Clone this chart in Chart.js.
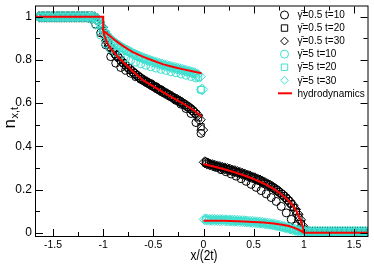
<!DOCTYPE html>
<html>
<head>
<meta charset="utf-8">
<script src="https://cdn.jsdelivr.net/npm/chart.js@4/dist/chart.umd.min.js"></script>
<style>
  html, body { margin: 0; padding: 0; background: #fff; }
  #box { width: 374px; height: 265px; }
</style>
</head>
<body>
<div id="box"><canvas id="profile" width="374" height="265"></canvas></div>
<script>
// axis ticks
const X_TICKS = [-1.5, -1, -0.5, 0, 0.5, 1, 1.5];
const X_MINOR = [-1.25, -0.75, -0.25, 0.25, 0.75, 1.25];
const Y_TICKS = [0, 0.2, 0.4, 0.6, 0.8, 1];
const Y_MINOR = [0.1, 0.3, 0.5, 0.7, 0.9];

// x/(2t) positions of the lattice sites for each time
const X_T10 = [-1.625,-1.575,-1.525,-1.475,-1.425,-1.375,-1.325,-1.275,-1.225,-1.175,-1.125,-1.075,-1.025,-0.975,-0.925,-0.875,-0.825,-0.775,-0.725,-0.675,-0.625,-0.575,-0.525,-0.475,-0.425,-0.375,-0.325,-0.275,-0.225,-0.175,-0.125,-0.075,-0.025,
  0.025,0.075,0.125,0.175,0.225,0.275,0.325,0.375,0.425,0.475,0.525,0.575,0.625,0.675,0.725,0.775,0.825,0.875,0.925,0.975,1.025,1.075,1.125,1.175,1.225,1.275,1.325,1.375,1.425,1.475,1.525,1.575,1.625];
const X_T20 = [-1.65,-1.625,-1.6,-1.575,-1.55,-1.525,-1.5,-1.475,-1.45,-1.425,-1.4,-1.375,-1.35,-1.325,-1.3,-1.275,-1.25,-1.225,-1.2,-1.175,-1.15,-1.125,-1.1,
  -1.075,-1.05,-1.025,-1,-0.975,-0.95,-0.925,-0.9,-0.875,-0.85,-0.825,-0.8,-0.775,-0.75,-0.725,-0.7,-0.675,-0.65,-0.625,-0.6,-0.575,-0.55,-0.525,-0.5,-0.475,-0.45,-0.425,-0.4,-0.375,-0.35,-0.325,-0.3,-0.275,-0.25,-0.225,-0.2,-0.175,-0.15,-0.125,-0.1,-0.075,-0.05,-0.025,
  0.025,0.05,0.075,0.1,0.125,0.15,0.175,0.2,0.225,0.25,0.275,0.3,0.325,0.35,0.375,0.4,0.425,0.45,0.475,0.5,0.525,0.55,0.575,0.6,0.625,0.65,0.675,0.7,0.725,0.75,0.775,0.8,0.825,0.85,0.875,0.9,0.925,0.95,0.975,1,
  1.025,1.05,1.075,1.1,1.125,1.15,1.175,1.2,1.225,1.25,1.275,1.3,1.325,1.35,1.375,1.4,1.425,1.45,1.475,1.5,1.525,1.55,1.575,1.6,1.625,1.65];
const X_T30 = [-1.6375,-1.6125,-1.5875,-1.5625,-1.5375,-1.5125,-1.4875,-1.4625,-1.4375,-1.4125,-1.3875,-1.3625,-1.3375,-1.3125,-1.2875,-1.2625,-1.2375,-1.2125,-1.1875,-1.1625,-1.1375,-1.1125,-1.0875,
  -1.0625,-1.0375,-1.0125,-0.9875,-0.9625,-0.9375,-0.9125,-0.8875,-0.8625,-0.8375,-0.8125,-0.7875,-0.7625,-0.7375,-0.7125,-0.6875,-0.6625,-0.6375,-0.6125,-0.5875,-0.5625,-0.5375,-0.5125,-0.4875,-0.4625,-0.4375,-0.4125,-0.3875,-0.3625,-0.3375,-0.3125,-0.2875,-0.2625,-0.2375,-0.2125,-0.1875,-0.1625,-0.1375,-0.1125,-0.0875,-0.0625,-0.0375,-0.0125,
  0.0125,0.0375,0.0625,0.0875,0.1125,0.1375,0.1625,0.1875,0.2125,0.2375,0.2625,0.2875,0.3125,0.3375,0.3625,0.3875,0.4125,0.4375,0.4625,0.4875,0.5125,0.5375,0.5625,0.5875,0.6125,0.6375,0.6625,0.6875,0.7125,0.7375,0.7625,0.7875,0.8125,0.8375,0.8625,0.8875,0.9125,0.9375,0.9625,0.9875,
  1.0125,1.0375,1.0625,1.0875,1.1125,1.1375,1.1625,1.1875,1.2125,1.2375,1.2625,1.2875,1.3125,1.3375,1.3625,1.3875,1.4125,1.4375,1.4625,1.4875,1.5125,1.5375,1.5625,1.5875,1.6125,1.6375];

// gamma = 0.5
const BLACK_T10 = [1,1,1,1,1,1,1,1,1,1,
  0.99,0.965,0.925,0.87,0.815,0.785,0.765,0.752,0.738,0.722,
  0.71,0.7,0.69,0.676,0.662,0.646,0.63,0.613,0.595,0.575,
  0.552,0.51,0.46,
  0.328,0.316,0.303,0.292,0.282,0.272,0.262,0.25,0.238,0.224,
  0.21,0.195,0.18,0.163,0.145,0.122,0.092,0.062,0.032,0.014,
  0.005,0.002,0,0,0,0,0,0,0,0,
  0,0,0];
const BLACK_T20 = [1,1,1,1,1,1,1,1,1,1,1,1,1,1,1,1,1,1,1,1,1,1,0.998,
  0.993,0.982,0.962,0.935,0.905,0.878,0.857,0.84,
  0.825,0.811,0.798,0.786,0.774,0.763,0.752,0.742,0.732,0.723,0.714,0.706,
  0.699,0.692,0.685,0.678,0.671,0.664,0.657,0.651,0.644,0.638,0.631,0.624,
  0.618,0.611,0.604,0.597,0.589,0.581,0.572,0.562,0.55,0.532,0.49,
  0.322,0.318,0.315,0.312,0.309,0.306,0.303,0.3,0.297,0.293,
  0.29,0.286,0.283,0.279,0.275,0.271,0.267,0.263,0.258,0.254,
  0.249,0.244,0.239,0.233,0.227,0.221,0.214,0.207,0.199,0.19,
  0.181,0.171,0.16,0.148,0.134,0.117,0.097,0.072,0.043,0.015,
  0.005,0.002,0,0,0,0,0,0,0,0,0,0,0,0,0,0,0,0,0,0,0,0,0,0,0,0];
const BLACK_T30 = [1,1,1,1,1,1,1,1,1,1,1,1,1,1,1,1,1,1,1,1,1,1,0.997,
  0.99,0.975,0.95,0.918,0.888,0.864,0.846,0.831,
  0.817,0.804,0.792,0.78,0.769,0.758,0.747,0.737,0.728,0.719,0.71,0.703,
  0.696,0.689,0.682,0.675,0.668,0.661,0.654,0.648,0.641,0.635,0.628,0.621,
  0.615,0.608,0.601,0.593,0.585,0.577,0.568,0.557,0.544,0.523,0.475,
  0.326,0.32,0.316,0.313,0.31,0.307,0.304,0.301,0.298,0.295,
  0.292,0.288,0.285,0.281,0.277,0.273,0.269,0.265,0.261,0.256,
  0.252,0.247,0.242,0.236,0.23,0.224,0.218,0.211,0.203,0.195,
  0.186,0.176,0.166,0.154,0.141,0.126,0.108,0.086,0.06,0.03,
  0.008,0.003,0,0,0,0,0,0,0,0,0,0,0,0,0,0,0,0,0,0,0,0,0,0,0,0];

// gamma = 5
const CYAN_T10 = [1,1,1,1,1,1,1,1,1,1,
  0.99,0.962,0.915,0.875,0.85,0.835,0.821,0.809,0.799,0.79,
  0.782,0.775,0.768,0.762,0.756,0.751,0.745,0.74,0.735,0.729,
  0.723,0.716,0.662,
  0.062,0.061,0.06,0.059,0.058,0.057,0.056,0.054,0.052,0.05,
  0.048,0.045,0.042,0.038,0.033,0.028,0.022,0.016,0.011,0.008,
  0.006,0.005,0.005,0.005,0.005,0.005,0.005,0.005,0.005,0.005,
  0.005,0.005,0.005];
const CYAN_T20 = [1,1,1,1,1,1,1,1,1,1,1,1,1,1,1,1,1,1,1,1,1,1,0.998,
  0.993,0.982,0.963,0.94,0.921,0.906,0.894,0.884,
  0.875,0.867,0.86,0.853,0.846,0.84,0.834,0.828,0.822,0.817,0.812,0.807,
  0.803,0.799,0.795,0.791,0.787,0.783,0.78,0.776,0.773,0.77,0.767,0.764,
  0.761,0.758,0.755,0.752,0.749,0.746,0.743,0.739,0.735,0.72,0.662,
  0.06,0.06,0.06,0.059,0.059,0.059,0.058,0.058,0.057,0.057,
  0.056,0.056,0.055,0.055,0.054,0.053,0.052,0.051,0.05,0.049,
  0.048,0.047,0.046,0.044,0.043,0.041,0.039,0.037,0.035,0.033,
  0.03,0.027,0.024,0.021,0.018,0.015,0.012,0.009,0.007,0.006,
  0.005,0.005,0.005,0.005,0.005,0.005,0.005,0.005,0.005,0.005,0.005,0.005,0.005,0.005,0.005,0.005,0.005,0.005,0.005,0.005,0.005,0.005,0.005,0.005,0.005,0.005];
const CYAN_T30 = [1,1,1,1,1,1,1,1,1,1,1,1,1,1,1,1,1,1,1,1,1,1,0.997,
  0.99,0.975,0.952,0.93,0.913,0.9,0.889,0.879,
  0.871,0.863,0.856,0.849,0.843,0.837,0.831,0.825,0.82,0.815,0.81,0.805,
  0.801,0.797,0.793,0.789,0.785,0.782,0.778,0.775,0.772,0.769,0.766,0.763,
  0.76,0.757,0.754,0.751,0.748,0.745,0.742,0.738,0.733,0.722,0.663,
  0.062,0.061,0.06,0.06,0.059,0.059,0.058,0.058,0.058,0.057,
  0.057,0.056,0.056,0.055,0.054,0.054,0.053,0.052,0.051,0.05,
  0.049,0.048,0.047,0.046,0.044,0.042,0.041,0.039,0.037,0.034,
  0.032,0.029,0.026,0.023,0.02,0.017,0.014,0.011,0.008,0.006,
  0.005,0.005,0.005,0.005,0.005,0.005,0.005,0.005,0.005,0.005,0.005,0.005,0.005,0.005,0.005,0.005,0.005,0.005,0.005,0.005,0.005,0.005,0.005,0.005,0.005,0.005];

// hydrodynamic solution, null = break between branches
const RED_X = [-1.67,-1,-1,-0.99,-0.97,-0.95,-0.93,-0.9,-0.85,-0.8,-0.75,-0.7,-0.65,-0.6,-0.5,-0.4,-0.3,-0.2,-0.1,-0.02, null,
  -1,-0.97,-0.95,-0.9,-0.85,-0.8,-0.75,-0.7,-0.6,-0.5,-0.4,-0.3,-0.2,-0.1,-0.02, null,
  0,0.1,0.2,0.3,0.4,0.5,0.6,0.7,0.75,0.8,0.85,0.9,0.93,0.96,0.98,0.995,1,1.67, null,
  0,0.2,0.4,0.5,0.6,0.7,0.8,0.85,0.9,0.95,0.98,1];
const RED_Y = [1,1,0.935,0.915,0.89,0.87,0.855,0.837,0.812,0.79,0.767,0.745,0.724,0.705,0.677,0.65,0.623,0.597,0.568,0.538, null,
  0.935,0.925,0.917,0.898,0.88,0.864,0.849,0.835,0.814,0.796,0.779,0.767,0.756,0.746,0.738, null,
  0.318,0.307,0.295,0.281,0.266,0.249,0.228,0.203,0.187,0.168,0.148,0.12,0.097,0.067,0.042,0.017,0,0, null,
  0.056,0.055,0.052,0.05,0.047,0.043,0.036,0.031,0.024,0.014,0.007,0];

const LABELS = ['\u03b3\u0304=0.5 t=10', '\u03b3\u0304=0.5 t=20', '\u03b3\u0304=0.5 t=30',
                '\u03b3\u0304=5 t=10', '\u03b3\u0304=5 t=20', '\u03b3\u0304=5 t=30', 'hydrodynamics'];

const FONT = '"Liberation Sans", Arial, sans-serif';
const BLACK = '#000000';
const CYAN = '#40e0d0';
const RED = '#ff0000';

function pts(xs, ys) {
    return xs.map((x, i) => ({ x: x, y: ys[i] }));
}

function markerSet(label, xs, ys, color, style, radius, order) {
    return {
        label: label, data: pts(xs, ys), showLine: false, order: order,
        pointStyle: style, pointRadius: radius, pointBorderWidth: 1,
        pointBorderColor: color, pointBackgroundColor: 'rgba(0,0,0,0)'
    };
}

// little symbol for the legend box
function drawSymbol(ctx, style, x, y, color) {
    ctx.save();
    ctx.strokeStyle = color;
    ctx.lineWidth = 1;
    ctx.beginPath();
    if (style === 'circle') ctx.arc(x, y, 4, 0, Math.PI * 2);
    else if (style === 'rect') ctx.rect(x - 3.2, y - 3.2, 6.4, 6.4);
    else { ctx.moveTo(x - 3.9, y); ctx.lineTo(x, y - 3.9); ctx.lineTo(x + 3.9, y); ctx.lineTo(x, y + 3.9); ctx.closePath(); }
    ctx.stroke();
    ctx.restore();
}

const framePlugin = {
    id: 'frame',
    beforeDraw(chart) {
        const ctx = chart.ctx;
        ctx.save();
        ctx.fillStyle = '#fff';
        ctx.fillRect(0, 0, chart.width, chart.height);
        ctx.restore();
    },
    afterDraw(chart) {
        const ctx = chart.ctx;
        const a = chart.chartArea;
        const xs = chart.scales.x, ys = chart.scales.y;
        ctx.save();
        ctx.strokeStyle = '#000';
        ctx.lineWidth = 1;
        ctx.strokeRect(a.left - 0.5, a.top - 0.5, a.right - a.left + 1, a.bottom - a.top + 1);

        // inward ticks on all four sides
        ctx.beginPath();
        const tickX = (v, len) => {
            const p = Math.round(xs.getPixelForValue(v)) + 0.5;
            ctx.moveTo(p, a.bottom); ctx.lineTo(p, a.bottom - len);
            ctx.moveTo(p, a.top); ctx.lineTo(p, a.top + len);
        };
        const tickY = (v, len) => {
            const p = Math.round(ys.getPixelForValue(v)) + 0.5;
            ctx.moveTo(a.left, p); ctx.lineTo(a.left + len, p);
            ctx.moveTo(a.right, p); ctx.lineTo(a.right - len, p);
        };
        X_TICKS.forEach(v => tickX(v, 7));
        X_MINOR.forEach(v => tickX(v, 4));
        Y_TICKS.forEach(v => tickY(v, 7));
        Y_MINOR.forEach(v => tickY(v, 4));
        ctx.stroke();

        // tick labels
        ctx.fillStyle = '#000';
        ctx.font = '10.5px ' + FONT;
        ctx.textAlign = 'center';
        ctx.textBaseline = 'middle';
        X_TICKS.forEach(v => ctx.fillText(String(v), xs.getPixelForValue(v), a.bottom + 9));
        ctx.font = '12px ' + FONT;
        ctx.textAlign = 'right';
        Y_TICKS.forEach(v => ctx.fillText(String(v), a.left - 4, ys.getPixelForValue(v)));

        // axis titles
        ctx.font = '14px ' + FONT;
        ctx.textAlign = 'center';
        ctx.save();
        ctx.translate(204, 256);
        ctx.scale(0.85, 1);
        ctx.fillText('x/(2t)', 0, 0);
        ctx.restore();

        ctx.save();
        ctx.translate(10, 118);
        ctx.rotate(-Math.PI / 2);
        ctx.textAlign = 'left';
        ctx.font = '17px ' + FONT;
        const nw = ctx.measureText('n').width;
        ctx.font = '11px ' + FONT;
        const sw = ctx.measureText('x,t').width;
        const start = -(nw + sw) / 2;
        ctx.font = '17px ' + FONT;
        ctx.fillText('n', start, 0);
        ctx.font = '11px ' + FONT;
        ctx.fillText('x,t', start + nw + 0.5, 5);
        ctx.restore();

        // legend
        const styles = ['circle', 'rect', 'rectRot', 'circle', 'rect', 'rectRot'];
        ctx.font = '10px ' + FONT;
        ctx.textAlign = 'left';
        LABELS.forEach((lab, i) => {
            const y = 15 + i * 13.05;
            if (i < 6) {
                drawSymbol(ctx, styles[i], 284.5, y, i < 3 ? BLACK : CYAN);
            } else {
                ctx.save();
                ctx.strokeStyle = RED; ctx.lineWidth = 2;
                ctx.beginPath(); ctx.moveTo(278, y); ctx.lineTo(292, y); ctx.stroke();
                ctx.restore();
            }
            ctx.fillStyle = '#000';
            ctx.fillText(lab, 297.5, y + 0.5);
        });
        ctx.restore();
    }
};

new Chart(document.getElementById('profile'), {
    type: 'scatter',
    data: {
        datasets: [
            {
                label: LABELS[6], data: pts(RED_X, RED_Y), showLine: true, order: 0,
                borderColor: RED, borderWidth: 2, pointRadius: 0, tension: 0, spanGaps: false
            },
            markerSet(LABELS[5], X_T30, CYAN_T30, CYAN, 'rectRot', 5.5, 1),
            markerSet(LABELS[4], X_T20, CYAN_T20, CYAN, 'rect', 4.5, 2),
            markerSet(LABELS[3], X_T10, CYAN_T10, CYAN, 'circle', 4, 3),
            markerSet(LABELS[2], X_T30, BLACK_T30, BLACK, 'rectRot', 5.5, 4),
            markerSet(LABELS[1], X_T20, BLACK_T20, BLACK, 'rect', 4.5, 5),
            markerSet(LABELS[0], X_T10, BLACK_T10, BLACK, 'circle', 4, 6)
        ]
    },
    options: {
        responsive: false,
        animation: false,
        devicePixelRatio: 1,
        layout: { padding: { left: 36, right: 3, top: 2, bottom: 29 } },
        plugins: { legend: { display: false }, tooltip: { enabled: false } },
        scales: {
            x: { type: 'linear', min: -1.67, max: 1.635, display: false },
            y: { type: 'linear', min: -0.015, max: 1.047, display: false }
        }
    },
    plugins: [framePlugin]
});
</script>
</body>
</html>
